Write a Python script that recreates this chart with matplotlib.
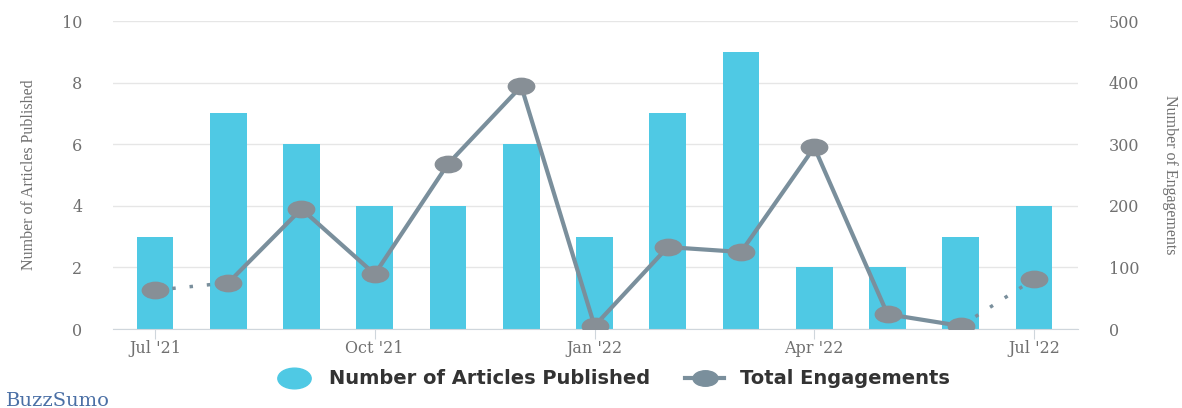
import matplotlib
matplotlib.use('Agg')
import matplotlib.pyplot as plt
from matplotlib.lines import Line2D
from matplotlib.path import Path

months = ["Jul '21", "Aug '21", "Sep '21", "Oct '21", "Nov '21", "Dec '21", "Jan '22",
          "Feb '22", "Mar '22", "Apr '22", "May '22", "Jun '22", "Jul '22"]
articles = [3, 7, 6, 4, 4, 6, 3, 7, 9, 2, 2, 3, 4]
engagements = [63, 75, 195, 89, 268, 394, 5, 133, 125, 295, 24, 5, 81]
tick_idx = [0, 3, 6, 9, 12]

bar_col = '#4fc9e4'
line_col = '#7a8f9c'
mark_col = '#878f96'
text_col = '#707070'

# markers in the reference look stretched sideways
circ = Path.unit_circle()
ellipse = Path(circ.vertices * [1.0, 0.62], circ.codes)

fig = plt.figure(figsize=(11.82, 4.08), dpi=100)
ax = fig.add_axes([113/1182, 1 - 329/408, (1078-113)/1182, (329-21)/408])
ax2 = ax.twinx()

x = list(range(len(months)))
ax.bar(x, articles, width=0.5, color=bar_col, zorder=2)
ax.set_ylim(0, 10)
ax.set_yticks([0, 2, 4, 6, 8, 10])
ax.set_xlim(-0.573, 12.6)
ax.set_xticks(tick_idx)
ax.set_xticklabels([months[i] for i in tick_idx], family='DejaVu Serif',
                   fontsize=11.5, color=text_col)
ax.grid(axis='y', color='#e6e6e6', lw=1, zorder=0)
ax.set_axisbelow(True)
for s in ['top', 'left', 'right']:
    ax.spines[s].set_visible(False)
ax2.spines[:].set_visible(False)
ax.spines['bottom'].set_color('#cfd6dc')
ax.tick_params(axis='x', length=7, color='#cfd6dc', pad=1)
ax.tick_params(axis='y', length=0, pad=22, labelcolor=text_col)
for t in ax.get_yticklabels():
    t.set_family('DejaVu Serif'); t.set_fontsize(11.5)
ax.set_ylabel('Number of Articles Published', family='Liberation Serif',
              fontsize=11.5, color=text_col, labelpad=18)

# solid line for the middle, dotted at both ends
ax2.plot(x[1:-1], engagements[1:-1], color=line_col, lw=3, zorder=3)
ax2.plot(x[:2], engagements[:2], color=line_col, lw=2.5, ls=(0, (1, 4)), zorder=3)
ax2.plot(x[-2:], engagements[-2:], color=line_col, lw=2.5, ls=(0, (1, 4)), zorder=3)
ax2.plot(x, engagements, ls='none', marker=ellipse, color=mark_col, ms=19, zorder=4)
ax2.set_ylim(0, 500)
ax2.set_yticks([0, 100, 200, 300, 400, 500])
ax2.tick_params(axis='y', length=0, pad=22, labelcolor=text_col)
for t in ax2.get_yticklabels():
    t.set_family('DejaVu Serif'); t.set_fontsize(11.5)
ax2.set_ylabel('Number of Engagements', family='Liberation Serif', fontsize=11.5,
               color=text_col, rotation=270, labelpad=28)

handles = [
    Line2D([], [], marker=ellipse, ls='none', color=bar_col, ms=24),
    Line2D([], [], marker=ellipse, color=line_col, lw=3, ms=18),
]
fig.legend(handles, ['Number of Articles Published', 'Total Engagements'],
           loc='center', bbox_to_anchor=(612/1182, 1 - 379/408), ncol=2,
           frameon=False, prop={'family': 'DejaVu Sans', 'weight': 'bold', 'size': 14},
           handlelength=2, handletextpad=0.8, columnspacing=1.8, labelcolor='#333333')

fig.text(6/1182, 1 - 401/408, 'BuzzSumo', family='DejaVu Serif', fontsize=14,
         color='#4a6fa5', va='center')

fig.savefig('out.png', dpi=100)
